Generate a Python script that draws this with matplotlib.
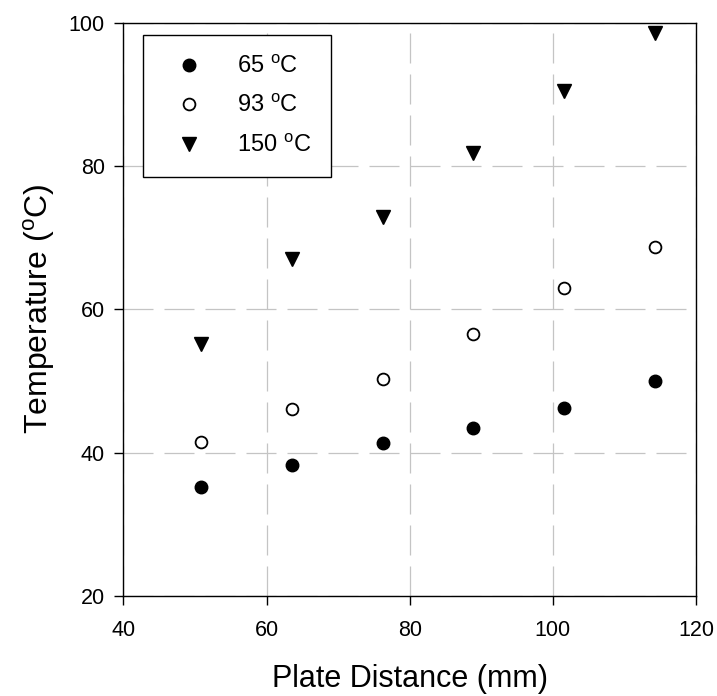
import matplotlib
matplotlib.use("Agg")
import matplotlib.pyplot as plt

plt.rcParams["font.family"] = ["Liberation Sans", "DejaVu Sans"]
plt.rcParams["mathtext.fontset"] = "custom"
plt.rcParams["mathtext.rm"] = "Liberation Sans"

# plate distance (mm) and measured temperatures (oC)
distance = [50.8, 63.5, 76.2, 88.9, 101.6, 114.3]
temp_65 = [35.2, 38.3, 41.4, 43.4, 46.2, 50.0]
temp_93 = [41.5, 46.1, 50.3, 56.5, 63.0, 68.7]
temp_150 = [55.1, 67.0, 72.9, 81.8, 90.4, 98.5]

x_ticks = [40, 60, 80, 100, 120]
y_ticks = [20, 40, 60, 80, 100]

fig = plt.figure(figsize=(7.17, 6.96), dpi=100)
ax = fig.add_axes([0.1722, 0.1437, 0.7985, 0.8237])

ax.plot(distance, temp_65, "o", ms=9, color="black", label=r"65 $^\mathrm{o}$C")
ax.plot(distance, temp_93, "o", ms=8.5, mfc="white", mec="black", mew=1.3,
        label=r"93 $^\mathrm{o}$C")
ax.plot(distance, temp_150, "v", ms=10.5, color="black", label=r"150 $^\mathrm{o}$C")

ax.set_xlim(40, 120)
ax.set_ylim(20, 100)
ax.set_xticks(x_ticks)
ax.set_yticks(y_ticks)
ax.tick_params(direction="out", length=6.5, width=1, labelsize=15.5)
ax.tick_params(axis="x", pad=11)
ax.tick_params(axis="y", pad=7)
ax.grid(True, color="#c4c4c4", linestyle=(0, (24, 8.8)), linewidth=0.9)
ax.set_axisbelow(True)
for sp in ax.spines.values():
    sp.set_linewidth(1.0)

ax.set_xlabel("Plate Distance (mm)", fontsize=22, labelpad=16)
ax.set_ylabel(r"Temperature ($^\mathrm{o}$C)", fontsize=23, labelpad=8)

leg = ax.legend(loc="upper left", bbox_to_anchor=(0.034, 0.9785), fontsize=17,
                frameon=True, fancybox=False, edgecolor="black", framealpha=1,
                borderpad=0.85, labelspacing=0.7, handletextpad=0.93,
                borderaxespad=0, handlelength=2.2, numpoints=1)
leg.get_frame().set_linewidth(1.0)

fig.savefig("out.png", dpi=100)
